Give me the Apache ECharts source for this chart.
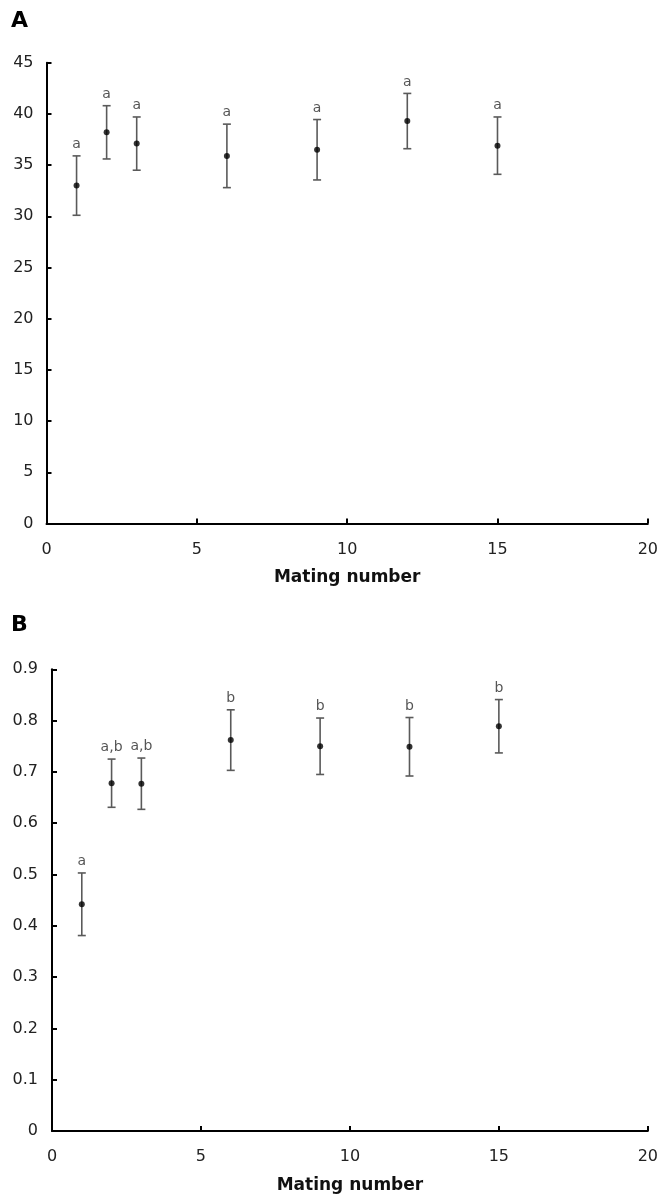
<!DOCTYPE html>
<html>
<head>
<meta charset="utf-8">
<script src="https://cdn.jsdelivr.net/npm/echarts@6/dist/echarts.min.js"></script>
<style>
  html, body { margin: 0; padding: 0; background: #fff; }
  #chart { width: 661px; height: 1196px; }
</style>
</head>
<body>
<div id="chart"></div>
<script>
// 交配次数
var matings = [1, 2, 3, 6, 9, 12, 15];

// 图 A：均值与误差
var meanA = [33.0, 38.2, 37.1, 35.9, 36.5, 39.3, 36.9];
var errA = [2.9, 2.6, 2.6, 3.1, 2.95, 2.7, 2.8];
var lettersA = ['a', 'a', 'a', 'a', 'a', 'a', 'a'];

// 图 B：均值与误差
var meanB = [0.442, 0.678, 0.677, 0.762, 0.750, 0.749, 0.789];
var errB = [0.061, 0.047, 0.050, 0.059, 0.055, 0.057, 0.052];
var lettersB = ['a', 'a,b', 'a,b', 'b', 'b', 'b', 'b'];

// 坐标轴刻度
var xTicks = { min: 0, max: 20, interval: 5 };
var yTicksA = { min: 0, max: 45, interval: 5 };
var yTicksB = { min: 0, max: 0.9, interval: 0.1 };

var FONT = 'DejaVu Sans';

var points = function (means) {
    return matings.map(function (m, i) { return [m, means[i]]; });
};
var bars = function (means, errs) {
    return matings.map(function (m, i) { return [m, means[i] - errs[i], means[i] + errs[i]]; });
};

// 误差线 + 字母标注
var errorBarItem = function (letters) {
    return function (params, api) {
        var x = api.value(0);
        var lo = api.coord([x, api.value(1)]);
        var hi = api.coord([x, api.value(2)]);
        var cap = 4;
        var st = { stroke: '#5a5a5a', lineWidth: 1.6 };
        return {
            type: 'group',
            children: [
                { type: 'line', shape: { x1: lo[0], y1: lo[1], x2: hi[0], y2: hi[1] }, style: st },
                { type: 'line', shape: { x1: lo[0] - cap, y1: lo[1], x2: lo[0] + cap, y2: lo[1] }, style: st },
                { type: 'line', shape: { x1: hi[0] - cap, y1: hi[1], x2: hi[0] + cap, y2: hi[1] }, style: st },
                {
                    type: 'text',
                    style: {
                        text: letters[params.dataIndex],
                        x: hi[0], y: hi[1] - 11.5,
                        align: 'center', verticalAlign: 'middle',
                        fontFamily: FONT, fontSize: 14, fill: '#555'
                    }
                }
            ]
        };
    };
};

var axisCommon = {
    axisLine: { show: true, lineStyle: { color: '#000', width: 2 } },
    axisTick: { show: true, inside: true, length: 5, lineStyle: { color: '#000', width: 2 } },
    splitLine: { show: false }
};

var makeX = function (idx) {
    return Object.assign({
        type: 'value', gridIndex: idx,
        min: xTicks.min, max: xTicks.max, interval: xTicks.interval,
        name: 'Mating number', nameLocation: 'middle', nameGap: 46,
        nameTextStyle: { fontFamily: FONT, fontSize: 17, fontWeight: 'bold', color: '#111' },
        axisLabel: { margin: 18, fontFamily: FONT, fontSize: 16, color: '#222' }
    }, axisCommon);
};
var makeY = function (idx, t, margin) {
    return Object.assign({
        type: 'value', gridIndex: idx,
        min: t.min, max: t.max, interval: t.interval,
        axisLabel: { margin: margin, fontFamily: FONT, fontSize: 16, color: '#222' }
    }, axisCommon);
};

var chart = echarts.init(document.getElementById('chart'));
chart.setOption({
    animation: false,
    backgroundColor: '#fff',
    graphic: [
        { type: 'text', left: 11, top: 10, style: { text: 'A', fontFamily: FONT, fontSize: 22, fontWeight: 'bold', fill: '#000' } },
        { type: 'text', left: 11, top: 614, style: { text: 'B', fontFamily: FONT, fontSize: 22, fontWeight: 'bold', fill: '#000' } }
    ],
    grid: [
        { left: 46.5, top: 62.7, width: 604.5, height: 460.8 },
        { left: 52, top: 669.3, width: 599, height: 461.7 }
    ],
    xAxis: [makeX(0), makeX(1)],
    yAxis: [makeY(0, yTicksA, 13), makeY(1, yTicksB, 14)],
    series: [
        {
            type: 'custom', xAxisIndex: 0, yAxisIndex: 0,
            renderItem: errorBarItem(lettersA), data: bars(meanA, errA), z: 2
        },
        {
            type: 'scatter', xAxisIndex: 0, yAxisIndex: 0,
            symbolSize: 6, itemStyle: { color: '#000' }, data: points(meanA), z: 3
        },
        {
            type: 'custom', xAxisIndex: 1, yAxisIndex: 1,
            renderItem: errorBarItem(lettersB), data: bars(meanB, errB), z: 2
        },
        {
            type: 'scatter', xAxisIndex: 1, yAxisIndex: 1,
            symbolSize: 6, itemStyle: { color: '#000' }, data: points(meanB), z: 3
        }
    ]
});
</script>
</body>
</html>
